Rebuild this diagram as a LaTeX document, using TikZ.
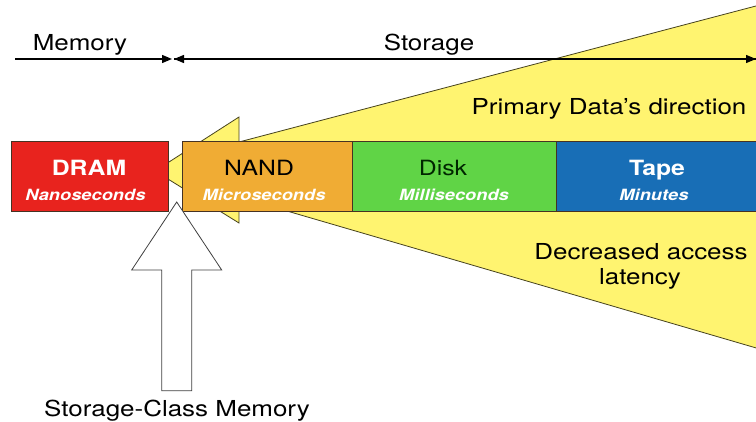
\documentclass[tikz,border=0pt]{standalone}
\usepackage{fontspec}
\setmainfont{TeX Gyre Heros}[FakeStretch=1.18]
\usetikzlibrary{arrows.meta}

\definecolor{wedgeyellow}{RGB}{255,244,112}
\definecolor{wedgeline}{RGB}{70,66,30}
\definecolor{dramred}{RGB}{232,35,30}
\definecolor{nandorange}{RGB}{240,172,52}
\definecolor{diskgreen}{RGB}{96,212,70}
\definecolor{tapeblue}{RGB}{24,110,182}
\definecolor{boxline}{RGB}{70,50,35}

\tikzset{
  label/.style={anchor=base, inner sep=0pt, font=\fontsize{22}{26}\selectfont},
  tier/.style={draw=boxline, line width=0.8pt, minimum height=70pt, inner sep=0pt, anchor=north west},
  tiername/.style={anchor=base, inner sep=0pt, font=\fontsize{21}{25}\selectfont},
  tiertime/.style={anchor=base, inner sep=0pt, text=white, font=\fontsize{15.5}{18}\selectfont\bfseries\itshape},
  span/.style={line width=1.3pt, -{Triangle[length=10pt,width=8pt]}},
}

\begin{document}
\begin{tikzpicture}[x=1pt,y=-1pt]
\useasboundingbox (0,0) rectangle (756,422);
\clip (0,0) rectangle (756,422);

% widening yellow arrow pointing left
\fill[wedgeyellow, draw=wedgeline, line width=0.8pt]
  (155,171) -- (239,117) -- (239,142) -- (770,2.3) -- (770,352)
  -- (239,197) -- (239,223) -- cycle;

% storage tiers
\node[tier, fill=dramred,    minimum width=157pt] (dram) at (11,141) {};
\node[tier, fill=nandorange, minimum width=170pt] (nand) at (182,141) {};
\node[tier, fill=diskgreen,  minimum width=204pt] (disk) at (352,141) {};
\node[tier, fill=tapeblue,   minimum width=214pt] (tape) at (556,141) {};

\node[tiername, text=white, font=\fontsize{21}{25}\selectfont\bfseries] (dramt) at (89,176) {DRAM};
\node[tiertime] (dramd) at (85.5,201) {Nanoseconds};
\node[tiername, text=black] (nandt) at (259,176) {NAND};
\node[tiertime] (nandd) at (264,201) {Microseconds};
\node[tiername, text=black!85!green] (diskt) at (443,176) {Disk};
\node[tiertime] (diskd) at (454,201) {Milliseconds};
\node[tiername, text=white, font=\fontsize{21}{25}\selectfont\bfseries] (tapet) at (657,176) {Tape};
\node[tiertime] (taped) at (654,201) {Minutes};

% memory / storage span arrows
\coordinate (memL) at (15,59);
\coordinate (memR) at (172,59);
\coordinate (stoL) at (174,59);
\coordinate (stoR) at (756,59);
\draw[span] (memL) -- (memR);
\draw[span] (stoR) -- (stoL);
\draw[span] (stoL) -- (stoR);

\node[label] (memory) at (80,51) {Memory};
\node[label] (storage) at (429,51) {Storage};

\node[label] (primary) at (609,115) {Primary Data’s direction};
\node[label] (decr1) at (641,260) {Decreased access};
\node[label] (decr2) at (640,285) {latency};

% hollow arrow for storage-class memory
\draw[fill=white, draw=black!75, line width=0.8pt]
  (176.7,202) -- (221.7,270) -- (191.7,270) -- (191.7,390.7)
  -- (161.7,390.7) -- (161.7,270) -- (131.7,270) -- cycle;
\node[label] (scm) at (177,417) {Storage-Class Memory};
\end{tikzpicture}
\end{document}
